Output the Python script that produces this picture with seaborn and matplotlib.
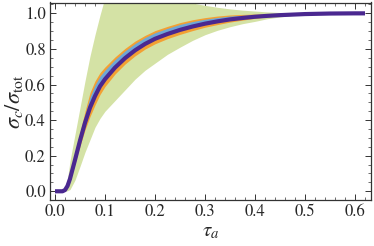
import numpy as np
import pandas as pd
import matplotlib
matplotlib.use("Agg")
import matplotlib.pyplot as plt
from matplotlib.ticker import MultipleLocator
import seaborn as sns

# ---- data ----
tau = [0.0, 0.015, 0.02, 0.025, 0.03, 0.04, 0.05, 0.06, 0.07, 0.08, 0.09, 0.1,
       0.12, 0.14, 0.16, 0.18, 0.2, 0.225, 0.25, 0.275, 0.3, 0.325, 0.35, 0.375,
       0.4, 0.425, 0.45, 0.475, 0.5, 0.55, 0.6, 0.62]
center = [0.0, 0.0, 0.007, 0.03, 0.07, 0.176, 0.285, 0.385, 0.47, 0.535, 0.59, 0.63,
          0.695, 0.748, 0.792, 0.828, 0.857, 0.884, 0.907, 0.926, 0.942, 0.955, 0.966, 0.974,
          0.981, 0.986, 0.99, 0.993, 0.996, 0.999, 1.0, 1.0]
# band widths above / below the central curve
blue_up = [0, 0, 0.004, 0.008, 0.012, 0.02, 0.03, 0.045, 0.06, 0.062, 0.057, 0.051,
           0.045, 0.041, 0.038, 0.036, 0.034, 0.032, 0.031, 0.028, 0.025, 0.022, 0.019, 0.015,
           0.011, 0.008, 0.005, 0.002, 0, 0, 0, 0]
orange_up = [0, 0, 0.006, 0.012, 0.018, 0.03, 0.045, 0.065, 0.085, 0.085, 0.077, 0.069,
             0.060, 0.055, 0.052, 0.048, 0.046, 0.043, 0.041, 0.038, 0.034, 0.030, 0.025, 0.020,
             0.015, 0.010, 0.006, 0.003, 0, 0, 0, 0]
orange_dn = [0, 0, 0.004, 0.008, 0.012, 0.02, 0.03, 0.04, 0.05, 0.05, 0.046, 0.041,
             0.036, 0.033, 0.031, 0.029, 0.028, 0.026, 0.025, 0.023, 0.020, 0.018, 0.015, 0.012,
             0.009, 0.006, 0.004, 0.002, 0, 0, 0, 0]
green_hi = [0.0, 0.0, 0.02, 0.07, 0.17, 0.32, 0.47, 0.62, 0.76, 0.88, 0.99, 1.09,
            1.2, 1.25, 1.25, 1.2, 1.15, 1.105, 1.075, 1.058, 1.045, 1.034, 1.025, 1.018,
            1.013, 1.008, 1.005, 1.003, 1.001, 1.0, 1.0, 1.0]
green_lo = [0.0, 0.0, 0.0, 0.003, 0.01, 0.063, 0.14, 0.22, 0.29, 0.36, 0.41, 0.45,
            0.51, 0.57, 0.63, 0.68, 0.72, 0.77, 0.81, 0.848, 0.88, 0.905, 0.925, 0.942,
            0.955, 0.97, 0.98, 0.988, 0.993, 0.999, 1.0, 1.0]

xticks = [0.0, 0.1, 0.2, 0.3, 0.4, 0.5, 0.6]
yticks = [0.0, 0.2, 0.4, 0.6, 0.8, 1.0]

df = pd.DataFrame({"tau": tau, "center": center})
c = np.array(center)

sns.set_theme(style="ticks")
plt.rcParams["font.family"] = ["STIXGeneral", "DejaVu Serif"]
plt.rcParams["mathtext.fontset"] = "stix"

fig = plt.figure(figsize=(3.74, 2.46), dpi=100)
ax = fig.add_axes([50 / 374, 1 - 200 / 246, 321 / 374, 197.5 / 246])

GREEN = "#d4e2a5"
ORANGE = "#f3a033"
BLUE = "#6ea7d6"
PURPLE = "#4a2890"

ax.fill_between(tau, green_lo, green_hi, color=GREEN, lw=0)
ax.fill_between(tau, c - np.array(orange_dn), c + np.array(orange_up), color=ORANGE, lw=0)
ax.fill_between(tau, c, c + np.array(blue_up), color=BLUE, lw=0)
sns.lineplot(data=df, x="tau", y="center", ax=ax, color=PURPLE, lw=3.0,
             solid_capstyle="butt")

ax.set_xlim(-0.01, 0.632)
ax.set_ylim(-0.049, 1.061)
ax.set_xticks(xticks)
ax.set_yticks(yticks)
ax.set_xticklabels([f"{v:.1f}" for v in xticks])
ax.set_yticklabels([f"{v:.1f}" for v in yticks])
ax.xaxis.set_minor_locator(MultipleLocator(0.02))
ax.yaxis.set_minor_locator(MultipleLocator(0.05))
ax.tick_params(which="both", direction="in", top=True, right=True,
               color="#333333", labelsize=12, pad=3)
ax.tick_params(which="major", length=4, width=0.7)
ax.tick_params(which="minor", length=2, width=0.5)
for s in ax.spines.values():
    s.set_color("#333333")
    s.set_linewidth(0.9)

ax.set_xlabel(r"$\tau_a$", fontsize=15, labelpad=1)
ax.set_ylabel(r"$\sigma_c/\sigma_{\rm tot}$", fontsize=16, labelpad=0)

fig.savefig("out.png", dpi=100)
